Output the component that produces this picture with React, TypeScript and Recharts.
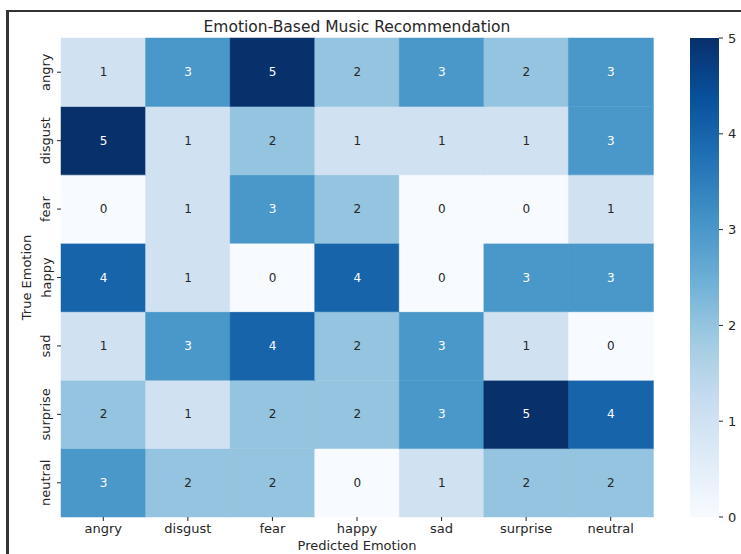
import React from 'react';
import { Bar, BarChart, Cell, LabelList, Label, XAxis, YAxis } from 'recharts';

const predictedEmotions = ['angry', 'disgust', 'fear', 'happy', 'sad', 'surprise', 'neutral'];
const trueEmotions = ['angry', 'disgust', 'fear', 'happy', 'sad', 'surprise', 'neutral'];

// one row per true emotion, columns follow predictedEmotions
const angryRow = [1, 3, 5, 2, 3, 2, 3];
const disgustRow = [5, 1, 2, 1, 1, 1, 3];
const fearRow = [0, 1, 3, 2, 0, 0, 1];
const happyRow = [4, 1, 0, 4, 0, 3, 3];
const sadRow = [1, 3, 4, 2, 3, 1, 0];
const surpriseRow = [2, 1, 2, 2, 3, 5, 4];
const neutralRow = [3, 2, 2, 0, 1, 2, 2];
const counts = [angryRow, disgustRow, fearRow, happyRow, sadRow, surpriseRow, neutralRow];

const colorbarTicks = [0, 1, 2, 3, 4, 5];
const vmax = 5;

const FONT = '"DejaVu Sans", sans-serif';
const INK = '#262626';

// matplotlib "Blues"
const blues9 = [
  [247, 251, 255],
  [222, 235, 247],
  [198, 219, 239],
  [158, 202, 225],
  [107, 174, 214],
  [66, 146, 198],
  [33, 113, 181],
  [8, 81, 156],
  [8, 48, 107],
];

function blues(t: number) {
  const pos = Math.max(0, Math.min(1, t)) * 8;
  const i = Math.min(7, Math.floor(pos));
  const f = pos - i;
  const c = blues9[i].map((v, k) => Math.round(v + (blues9[i + 1][k] - v) * f));
  return `rgb(${c[0]},${c[1]},${c[2]})`;
}

const table = predictedEmotions.map((p, j) => {
  const row: Record<string, string | number> = { predicted: p };
  trueEmotions.forEach((t, i) => {
    row[t] = 1;
    row[`${t}_count`] = counts[i][j];
  });
  return row;
});

function renderAnnot(props: any) {
  const { x, y, width, height, value } = props;
  return (
    <text
      x={x + width / 2}
      y={y + height / 2}
      textAnchor="middle"
      dominantBaseline="central"
      fontSize={12}
      fontFamily={FONT}
      fill={value >= 3 ? '#ffffff' : INK}
    >
      {value}
    </text>
  );
}

function TrueTick(props: any) {
  const { x, y, payload } = props;
  const name = trueEmotions[6 - Math.floor(payload.value)];
  const cx = x - 9;
  return (
    <text
      x={cx}
      y={y}
      transform={`rotate(-90, ${cx}, ${y})`}
      textAnchor="middle"
      dominantBaseline="central"
      fontSize={13}
      fontFamily={FONT}
      fill={INK}
    >
      {name}
    </text>
  );
}

export default function App() {
  return (
    <div style={{ position: 'absolute', left: 0, top: 0, width: 741, height: 554, background: '#fff', overflow: 'hidden' }}>
      <div style={{ position: 'absolute', left: 6, top: 10, width: 735, height: 2, background: '#333' }} />
      <div style={{ position: 'absolute', left: 6, top: 10, width: 3, height: 544, background: '#333' }} />
      <div
        style={{
          position: 'absolute',
          left: 0,
          top: 18,
          width: 714,
          textAlign: 'center',
          fontFamily: FONT,
          fontSize: 15.5,
          lineHeight: '18px',
          color: INK,
        }}
      >
        Emotion-Based Music Recommendation
      </div>

      <div style={{ position: 'absolute', left: 0, top: 0 }}>
        <BarChart
          width={741}
          height={554}
          data={table}
          margin={{ top: 38, right: 88, bottom: 0, left: 0 }}
          barCategoryGap={0}
          barGap={0}
        >
          <XAxis
            dataKey="predicted"
            height={37}
            axisLine={false}
            tickSize={4}
            tickMargin={3}
            tickLine={{ stroke: INK }}
            tick={{ fill: INK, fontSize: 13, fontFamily: FONT }}
            interval={0}
          >
            <Label
              content={(p: any) => {
                const vb = p.viewBox;
                return (
                  <text
                    x={vb.x + vb.width / 2}
                    y={550}
                    textAnchor="middle"
                    fontSize={13}
                    fontFamily={FONT}
                    fill={INK}
                  >
                    Predicted Emotion
                  </text>
                );
              }}
            />
          </XAxis>
          <YAxis
            type="number"
            domain={[0, 7]}
            ticks={[0.5, 1.5, 2.5, 3.5, 4.5, 5.5, 6.5]}
            width={61}
            axisLine={false}
            tickSize={4}
            tickMargin={2}
            tickLine={{ stroke: INK }}
            tick={<TrueTick />}
            interval={0}
          >
            <Label
              content={(p: any) => {
                const vb = p.viewBox;
                const cx = 31;
                const cy = vb.y + vb.height / 2;
                return (
                  <text
                    x={cx}
                    y={cy}
                    transform={`rotate(-90, ${cx}, ${cy})`}
                    textAnchor="middle"
                    fontSize={13}
                    fontFamily={FONT}
                    fill={INK}
                  >
                    True Emotion
                  </text>
                );
              }}
            />
          </YAxis>
          {[...trueEmotions].reverse().map((t) => (
            <Bar key={t} dataKey={t} stackId="cells" isAnimationActive={false}>
              {table.map((d, j) => {
                const c = blues((d[`${t}_count`] as number) / vmax);
                return <Cell key={j} fill={c} stroke={c} strokeWidth={0.5} />;
              })}
              <LabelList dataKey={`${t}_count`} content={renderAnnot} />
            </Bar>
          ))}
        </BarChart>
      </div>

      <div style={{ position: 'absolute', left: 690, top: 0 }}>
        <BarChart
          width={51}
          height={554}
          data={[{ name: 'scale', v: vmax }]}
          margin={{ top: 38, right: 0, bottom: 37, left: 0 }}
          barCategoryGap={0}
        >
          <defs>
            <linearGradient id="bluesGrad" x1="0" y1="1" x2="0" y2="0">
              {blues9.map((c, i) => (
                <stop key={i} offset={i / 8} stopColor={`rgb(${c[0]},${c[1]},${c[2]})`} />
              ))}
            </linearGradient>
          </defs>
          <XAxis dataKey="name" hide />
          <YAxis
            orientation="right"
            type="number"
            domain={[0, vmax]}
            ticks={colorbarTicks}
            width={22}
            axisLine={false}
            tickSize={4}
            tickMargin={5}
            tickLine={{ stroke: INK }}
            tick={{ fill: INK, fontSize: 13, fontFamily: FONT }}
            interval={0}
          />
          <Bar dataKey="v" fill="url(#bluesGrad)" isAnimationActive={false} />
        </BarChart>
      </div>
    </div>
  );
}
